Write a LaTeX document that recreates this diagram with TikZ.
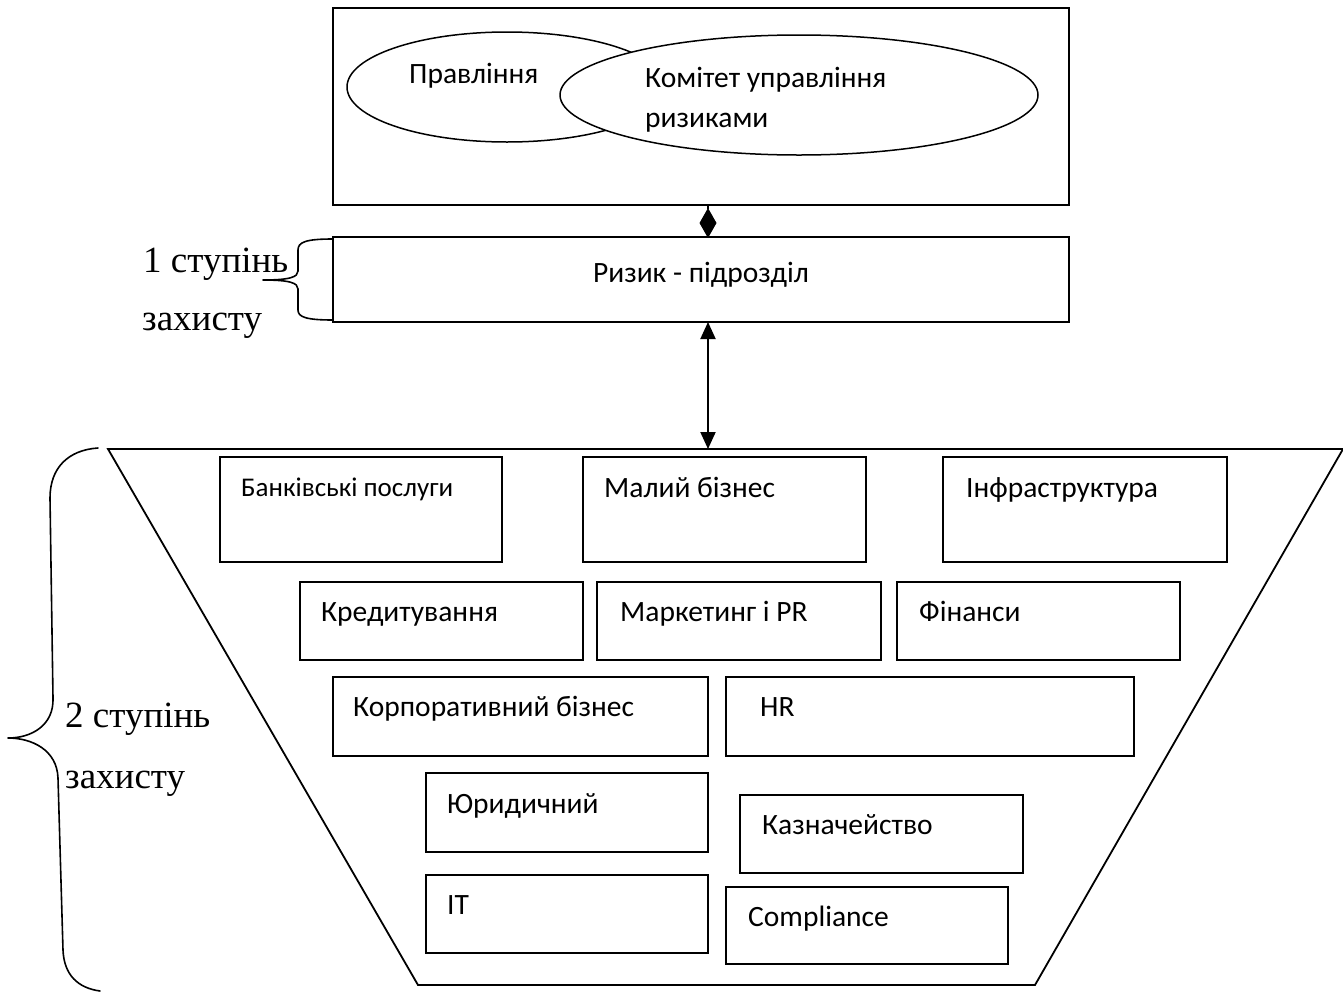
\documentclass[tikz,border=0pt]{standalone}
\usepackage{fontspec}
\setmainfont{Liberation Serif}
\newfontfamily\boxfont{Carlito}
\usetikzlibrary{arrows.meta,shapes.geometric}
\begin{document}
\begin{tikzpicture}[x=1pt,y=-1pt,
  unitbox/.style={draw, line width=1.8pt, rectangle, anchor=north west, inner sep=0pt, outer sep=0pt},
  oval/.style={draw, ellipse, line width=1.5pt, fill=white, inner sep=0pt, outer sep=0pt},
  txt/.style={anchor=base west, inner sep=0pt, font=\boxfont\fontsize{29.5}{35}\selectfont},
  smalltxt/.style={txt, font=\boxfont\fontsize{27}{32}\selectfont},
  side/.style={anchor=base west, inner sep=0pt, font=\fontsize{37}{44}\selectfont},
  brace/.style={line width=1.6pt, line cap=round, line join=round},
  edge/.style={line width=1.8pt}]
\useasboundingbox (0,0) rectangle (1343,991);

% top level: management board and risk committee
\node[unitbox, minimum width=736, minimum height=197] (board) at (333,8) {};
\node[oval, minimum width=320, minimum height=110] (pravl) at (507,87) {};
\node[oval, minimum width=478, minimum height=120] (komit) at (799,95) {};
\node[txt] (tpravl) at (409,83) {Правління};
\node[txt] (tkomit1) at (645,87) {Комітет управління};
\node[txt] (tkomit2) at (645,127) {ризиками};

% risk unit
\node[unitbox, minimum width=736, minimum height=85] (risk) at (333,237) {};
\node[anchor=base, inner sep=0pt, font=\boxfont\fontsize{29.5}{35}\selectfont] (trisk) at (701,282) {Ризик - підрозділ};

% connectors
\coordinate (ax) at (708,0);
\draw[line width=1.2pt, -{Diamond[length=30pt,width=17pt]}, shorten >=-1pt] (board.south -| ax) -- (risk.north -| ax);

% second line of defence: trapezoid of business units
\coordinate (tl) at (108,449);
\coordinate (tr) at (1343,449);
\coordinate (br) at (1035,985);
\coordinate (bl) at (418,985);
\draw[edge, line join=miter] (tl) -- (tr) -- (br) -- (bl) -- cycle;

\draw[line width=2pt, {Triangle[length=17pt,width=15pt]}-{Triangle[length=17pt,width=15pt]}] (risk.south -| ax) -- (tl -| ax);

% row 1
\node[unitbox, minimum width=282, minimum height=105] (bank) at (220,457) {};
\node[smalltxt] (tbank) at (241,496) {Банківські послуги};
\node[unitbox, minimum width=283, minimum height=105] (small) at (583,457) {};
\node[txt] (tsmall) at (604,497) {Малий бізнес};
\node[unitbox, minimum width=284, minimum height=105] (infra) at (943,457) {};
\node[txt] (tinfra) at (966,497) {Інфраструктура};

% row 2
\node[unitbox, minimum width=283, minimum height=78] (kred) at (300,582) {};
\node[txt] (tkred) at (321,621) {Кредитування};
\node[unitbox, minimum width=284, minimum height=78] (mark) at (597,582) {};
\node[txt] (tmark) at (620,621) {Маркетинг і PR};
\node[unitbox, minimum width=283, minimum height=78] (fin) at (897,582) {};
\node[txt] (tfin) at (919,621) {Фінанси};

% row 3
\node[unitbox, minimum width=375, minimum height=79] (korp) at (333,677) {};
\node[txt] (tkorp) at (353,716) {Корпоративний бізнес};
\node[unitbox, minimum width=408, minimum height=79] (hr) at (726,677) {};
\node[txt] (thr) at (760,716) {HR};

% row 4
\node[unitbox, minimum width=282, minimum height=79] (jur) at (426,773) {};
\node[txt] (tjur) at (447,813) {Юридичний};
\node[unitbox, minimum width=283, minimum height=78] (kazn) at (740,795) {};
\node[txt] (tkazn) at (762,834) {Казначейство};

% row 5
\node[unitbox, minimum width=282, minimum height=78] (it) at (426,875) {};
\node[txt] (tit) at (447,914) {IT};
\node[unitbox, minimum width=282, minimum height=77] (comp) at (726,887) {};
\node[txt] (tcomp) at (748,926) {Compliance};

% braces and their labels
\draw[brace] (333,239) .. controls (306,239) and (298,242) .. (298,250) -- (298,271)
  .. controls (298,277) and (290,280) .. (263,280)
  .. controls (290,280) and (298,283) .. (298,289) -- (298,310)
  .. controls (298,317) and (306,320) .. (333,320);
\node[side] (lab1a) at (143,272) {1 ступінь};
\node[side] (lab1b) at (142,330) {захисту};

\draw[brace] (98,448) .. controls (68,450) and (50,468) .. (50,498) -- (53,698)
  .. controls (54,725) and (32,738) .. (8,738)
  .. controls (32,738) and (57,750) .. (58,778) -- (63,950)
  .. controls (64,975) and (78,988) .. (100,991);
\node[side] (lab2a) at (65,727) {2 ступінь};
\node[side] (lab2b) at (65,788) {захисту};
\end{tikzpicture}
\end{document}
